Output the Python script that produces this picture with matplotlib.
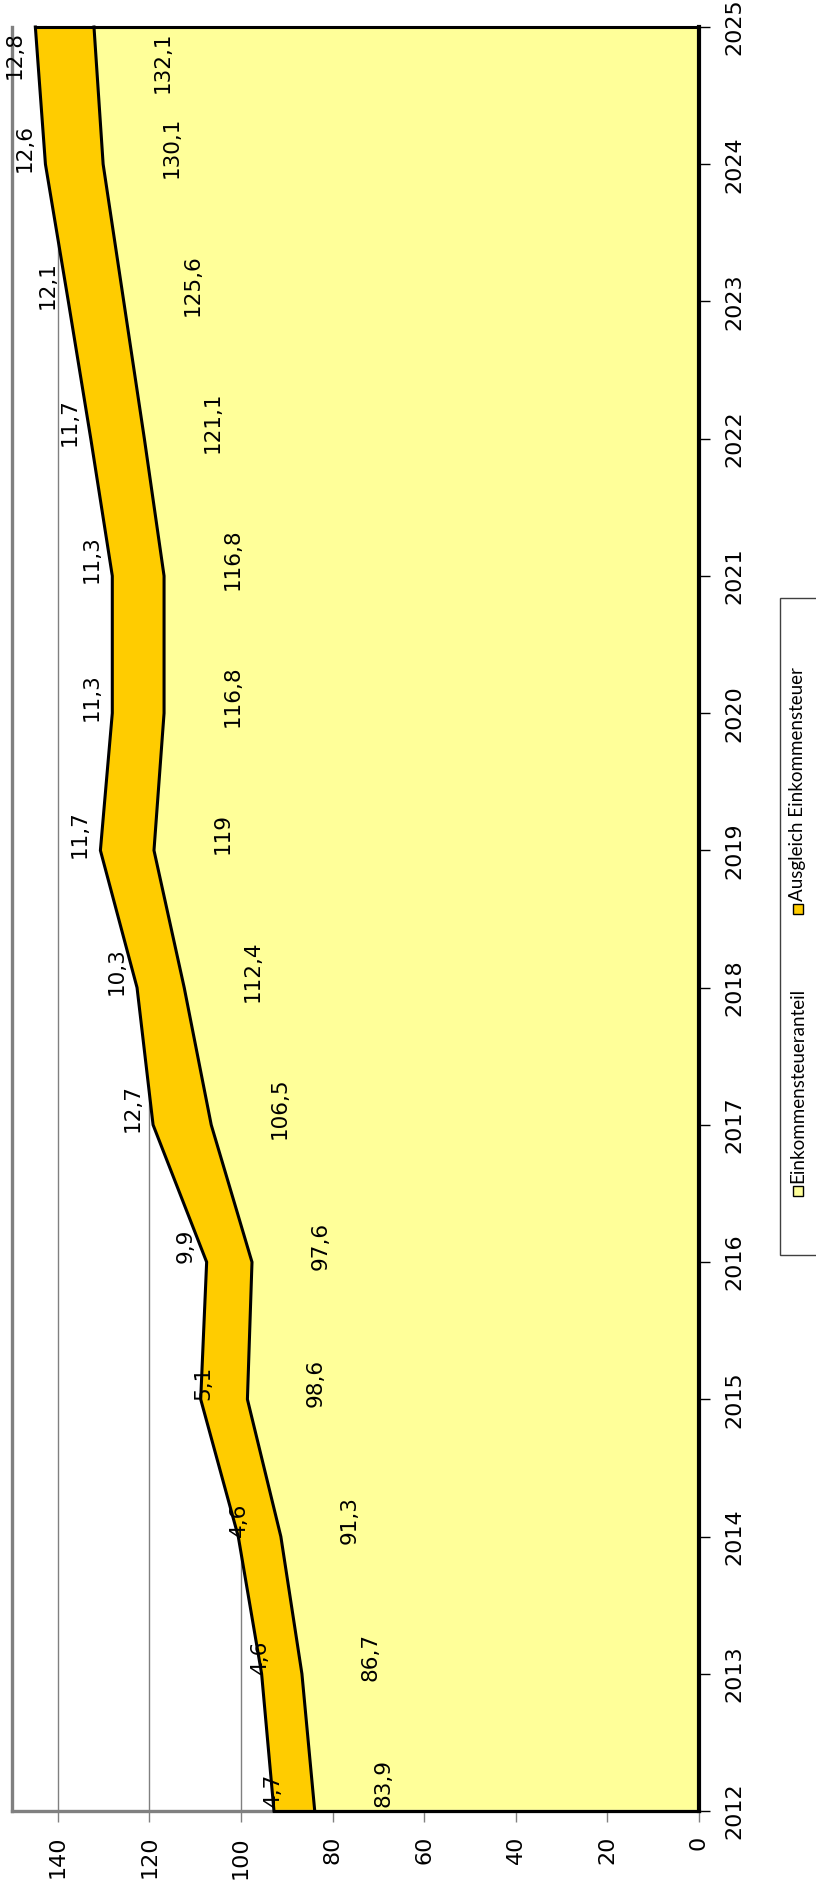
import matplotlib.pyplot as plt
from matplotlib.patches import Rectangle

# Chart data (values in Mio. EUR, chart is drawn rotated by 90 degrees)
years = list(range(2012, 2026))
anteil = [83.9, 86.7, 91.3, 98.6, 97.6, 106.5, 112.4, 119.0, 116.8, 116.8, 121.1, 125.6, 130.1, 132.1]
ausgleich = [4.7, 4.6, 4.6, 5.1, 9.9, 12.7, 10.3, 11.7, 11.3, 11.3, 11.7, 12.1, 12.6, 12.8]
# unlabelled extra part of the orange band in the first years
ausgleich_rest = [4.2, 4.2, 4.7, 5.1, 0, 0, 0, 0, 0, 0, 0, 0, 0, 0]
value_ticks = [0, 20, 40, 60, 80, 100, 120, 140]
series_names = ['Einkommensteueranteil', 'Ausgleich Einkommensteuer']

YELLOW = '#FFFF99'
ORANGE = '#FFCC00'
GREY = '#808080'
W, H = 816, 1888


def fmt(v):
    return ('%g' % v).replace('.', ',')


fig = plt.figure(figsize=(W / 100, H / 100), dpi=100)
ax = fig.add_axes([12 / W, 1 - 1811 / H, (699 - 12) / W, (1811 - 27) / H])

lower = anteil
labelled_top = [a + b for a, b in zip(anteil, ausgleich)]
upper = [t + r for t, r in zip(labelled_top, ausgleich_rest)]

ax.fill_betweenx(years, 0, lower, color=YELLOW, lw=0, zorder=2)
ax.fill_betweenx(years, lower, upper, color=ORANGE, lw=0, zorder=2)
line_kw = dict(color='black', lw=2.2, zorder=4, clip_on=False, solid_joinstyle='miter')
ax.plot(lower, years, **line_kw)
ax.plot(upper, years, **line_kw)
ax.plot([0, upper[0]], [years[0], years[0]], **line_kw)
ax.plot([0, upper[-1]], [years[-1], years[-1]], **line_kw)
ax.plot([0, 0], [years[0], years[-1]], color='black', lw=3, zorder=4, clip_on=False)

ax.set_xlim(150, 0)
ax.set_ylim(years[0], years[-1])

ax.set_xticks(value_ticks)
ax.set_xticklabels([str(v) for v in value_ticks], rotation=90, fontsize=16,
                   family='DejaVu Sans')
ax.yaxis.tick_right()
ax.set_yticks(years)
ax.set_yticklabels([str(y) for y in years], rotation=90, va='center',
                   fontsize=16, family='DejaVu Sans')
ax.tick_params(axis='x', direction='out', length=8, width=1, color=GREY, pad=10)
ax.tick_params(axis='y', direction='out', length=8, width=1, color='black', pad=10)

ax.xaxis.grid(True, color=GREY, lw=1)
ax.set_axisbelow(True)
for side in ['top', 'right']:
    ax.spines[side].set_visible(False)
for side in ['left', 'bottom']:
    ax.spines[side].set_color(GREY)
    ax.spines[side].set_linewidth(2.4)

# data labels
for i, yr in enumerate(years):
    if i == 0:
        ha, ypos = 'left', yr + 0.03
    elif i == len(years) - 1:
        ha, ypos = 'right', yr - 0.03
    else:
        ha, ypos = 'center', yr + 0.12
    ax.text(anteil[i] - 15, ypos, fmt(anteil[i]), rotation=90, rotation_mode='anchor',
            ha=ha, va='center', fontsize=15.5, zorder=5)
    ax.text(labelled_top[i] + 4.5, ypos, fmt(ausgleich[i]), rotation=90,
            rotation_mode='anchor', ha=ha, va='center', fontsize=15.5, zorder=5)

# legend (drawn by hand so it can be rotated)
fig.patches.append(Rectangle((780 / W, 1 - 1255 / H), 60 / W, (1255 - 598) / H,
                             transform=fig.transFigure, facecolor='white',
                             edgecolor='#404040', lw=1))
for name, color, ymark in zip(series_names, [YELLOW, ORANGE], [1191, 909]):
    fig.patches.append(Rectangle((793 / W, 1 - (ymark + 5) / H), 10 / W, 10 / H,
                                 transform=fig.transFigure, facecolor=color,
                                 edgecolor='black', lw=1))
    fig.text(798 / W, 1 - (ymark - 8) / H, name, rotation=90, rotation_mode='anchor',
             ha='left', va='center', fontsize=13.5, family='Lato')

fig.savefig('out.png', dpi=100)
